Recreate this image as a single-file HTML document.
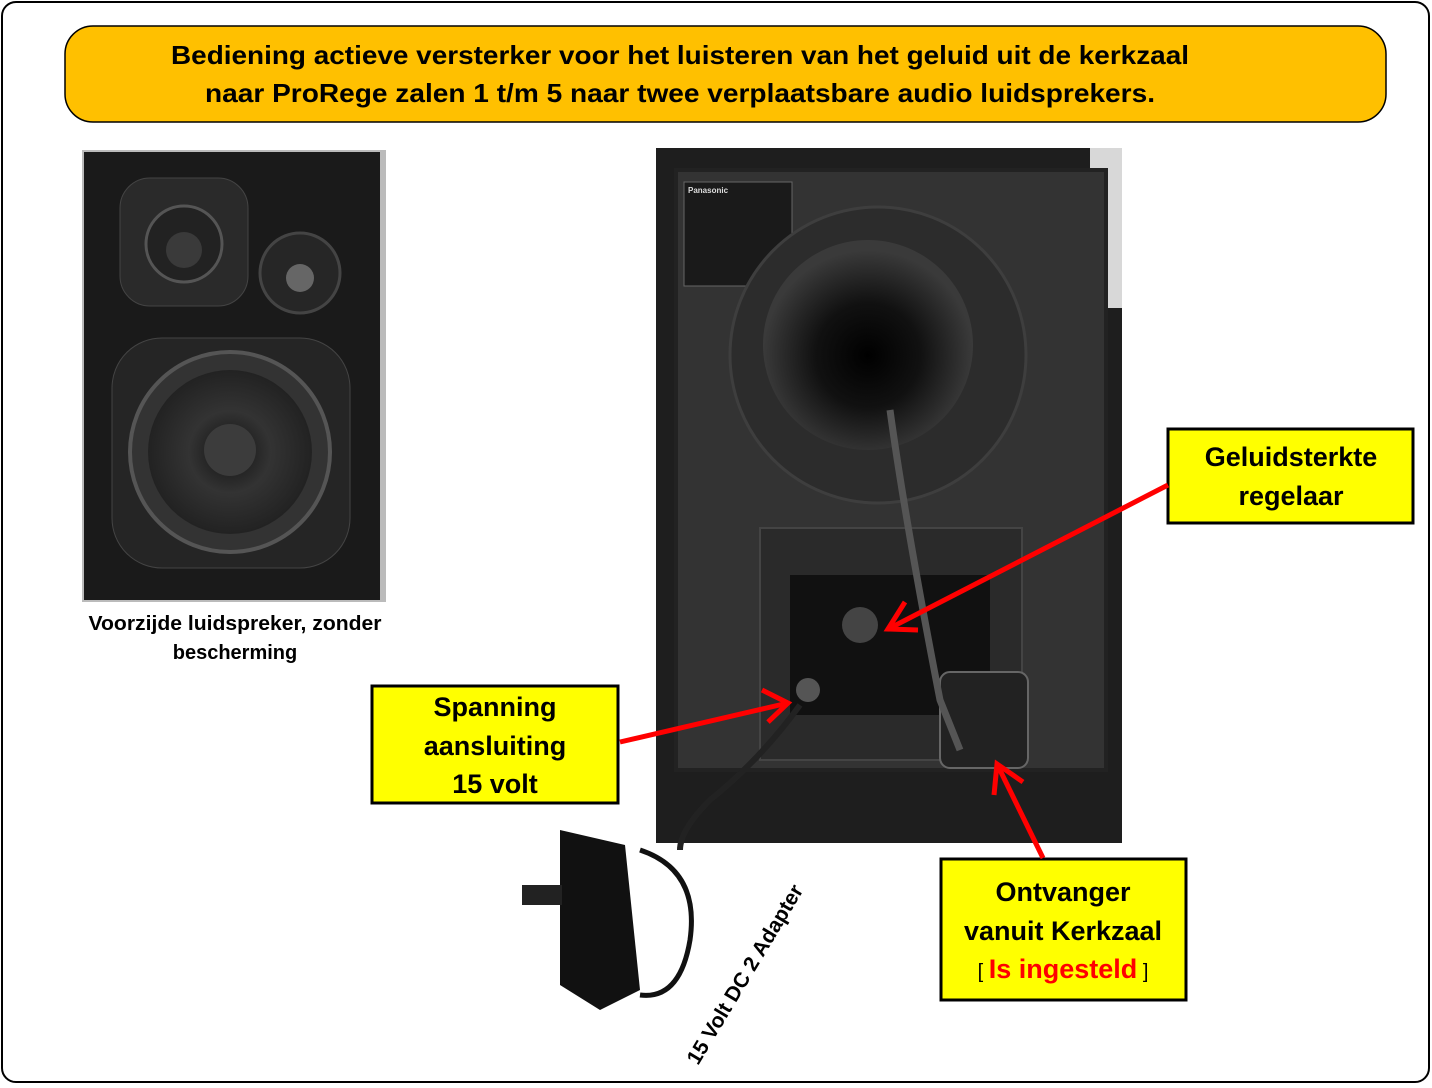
<!DOCTYPE html>
<html><head><meta charset="utf-8"><style>
html,body{margin:0;padding:0;background:#fff;}
svg{display:block;font-family:"Liberation Sans",sans-serif;}
</style></head><body>
<svg width="1432" height="1088" viewBox="0 0 1432 1088" xmlns="http://www.w3.org/2000/svg">
<defs>
<radialGradient id="cone" cx="50%" cy="50%" r="50%"><stop offset="0" stop-color="#111"/><stop offset="0.5" stop-color="#333"/><stop offset="1" stop-color="#222"/></radialGradient>
<radialGradient id="horn" cx="50%" cy="55%" r="50%"><stop offset="0" stop-color="#000"/><stop offset="0.5" stop-color="#111"/><stop offset="1" stop-color="#3a3a3a"/></radialGradient>
</defs>
<rect x="2" y="2" width="1427" height="1080" rx="14" fill="#fff" stroke="#000" stroke-width="2"/>
<rect x="65" y="26" width="1321" height="96" rx="28" fill="#FFC000" stroke="#000" stroke-width="1.5"/>
<text x="680" y="64" font-size="26" font-weight="bold" text-anchor="middle" textLength="1018" lengthAdjust="spacingAndGlyphs">Bediening actieve versterker voor het luisteren van het geluid uit de kerkzaal</text>
<text x="680" y="102" font-size="26" font-weight="bold" text-anchor="middle" textLength="950" lengthAdjust="spacingAndGlyphs">naar ProRege zalen 1 t/m 5 naar twee verplaatsbare audio luidsprekers.</text>

<!-- front speaker -->
<rect x="82" y="150" width="304" height="452" fill="#bbb"/>
<rect x="84" y="152" width="296" height="448" fill="#1a1a1a"/>
<rect x="120" y="178" width="128" height="128" rx="30" fill="#2a2a2a" stroke="#444"/>
<circle cx="184" cy="244" r="38" fill="#222" stroke="#555" stroke-width="3"/>
<circle cx="184" cy="250" r="18" fill="#3a3a3a"/>
<circle cx="300" cy="273" r="40" fill="#262626" stroke="#444" stroke-width="3"/>
<circle cx="300" cy="278" r="14" fill="#666"/>
<rect x="112" y="338" width="238" height="230" rx="50" fill="#252525" stroke="#444"/>
<circle cx="230" cy="452" r="100" fill="#333" stroke="#555" stroke-width="4"/>
<circle cx="230" cy="452" r="82" fill="url(#cone)"/>
<circle cx="230" cy="450" r="26" fill="#3c3c3c"/>
<text x="235" y="630" font-size="20" font-weight="bold" text-anchor="middle" textLength="293" lengthAdjust="spacingAndGlyphs">Voorzijde luidspreker, zonder</text>
<text x="235" y="659" font-size="20" font-weight="bold" text-anchor="middle">bescherming</text>

<!-- back speaker -->
<rect x="656" y="148" width="466" height="695" fill="#1e1e1e"/>
<rect x="1090" y="148" width="32" height="160" fill="#d8d8d8"/>
<rect x="676" y="170" width="430" height="600" fill="#333" stroke="#222" stroke-width="4"/>
<rect x="684" y="182" width="108" height="104" fill="#1a1a1a" stroke="#666"/>
<text x="688" y="193" font-size="8" fill="#ddd" font-weight="bold">Panasonic</text>
<circle cx="878" cy="355" r="148" fill="#2c2c2c" stroke="#3e3e3e" stroke-width="3"/>
<circle cx="868" cy="345" r="105" fill="url(#horn)"/>
<rect x="760" y="528" width="262" height="232" fill="#2a2a2a" stroke="#444" stroke-width="2"/>
<rect x="790" y="575" width="200" height="140" fill="#111"/>
<circle cx="860" cy="625" r="18" fill="#444"/>
<circle cx="808" cy="690" r="12" fill="#555"/>
<rect x="940" y="672" width="88" height="96" rx="10" fill="#222" stroke="#666" stroke-width="2"/>
<path d="M890,410 Q905,520 940,700 L960,750" stroke="#555" stroke-width="7" fill="none"/>
<path d="M800,705 Q760,760 710,800 Q680,830 680,850" stroke="#222" stroke-width="6" fill="none"/>

<!-- adapter -->
<path d="M560,830 L625,845 L640,990 L600,1010 L560,985 Z" fill="#111"/>
<rect x="522" y="885" width="40" height="20" fill="#222"/>
<path d="M640,850 Q700,870 690,940 Q680,1000 640,995" stroke="#111" stroke-width="5" fill="none"/>
<text transform="translate(698,1066) rotate(-59)" font-size="21" font-weight="bold">15 Volt DC 2 Adapter</text>

<!-- yellow boxes -->
<rect x="1168" y="429" width="245" height="94" fill="#FFFF00" stroke="#000" stroke-width="3"/>
<text x="1291" y="466" font-size="27" font-weight="bold" text-anchor="middle">Geluidsterkte</text>
<text x="1291" y="505" font-size="27" font-weight="bold" text-anchor="middle">regelaar</text>
<rect x="372" y="686" width="246" height="117" fill="#FFFF00" stroke="#000" stroke-width="3"/>
<text x="495" y="716" font-size="27" font-weight="bold" text-anchor="middle">Spanning</text>
<text x="495" y="755" font-size="27" font-weight="bold" text-anchor="middle">aansluiting</text>
<text x="495" y="793" font-size="27" font-weight="bold" text-anchor="middle">15 volt</text>
<rect x="941" y="859" width="245" height="141" fill="#FFFF00" stroke="#000" stroke-width="3"/>
<text x="1063" y="901" font-size="27" font-weight="bold" text-anchor="middle">Ontvanger</text>
<text x="1063" y="940" font-size="27" font-weight="bold" text-anchor="middle">vanuit Kerkzaal</text>
<text x="1063" y="978" font-size="27" font-weight="bold" text-anchor="middle"><tspan font-size="20" font-weight="normal">[ </tspan><tspan fill="#f00">Is ingesteld</tspan><tspan font-size="20" font-weight="normal"> ]</tspan></text>

<!-- arrows -->
<g stroke="#f00" stroke-width="5" fill="none">
<line x1="1168" y1="485" x2="890" y2="628"/>
<path d="M905,602 L888,629 L918,630"/>
<line x1="620" y1="742" x2="788" y2="703"/>
<path d="M762,690 L788,703 L768,722"/>
<line x1="1043" y1="858" x2="997" y2="764"/>
<path d="M994,795 L997,764 L1023,782"/>
</g>
</svg>
</body></html>
